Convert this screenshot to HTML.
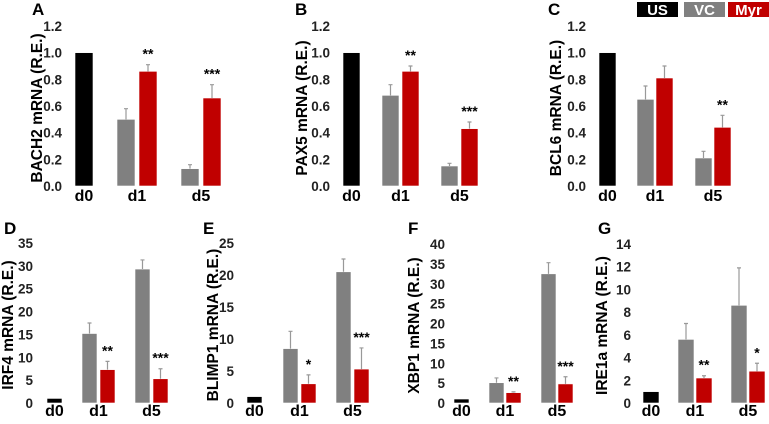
<!DOCTYPE html>
<html><head><meta charset="utf-8"><style>
body{margin:0;background:#fff}
svg text{font-family:"Liberation Sans",Arial,sans-serif;font-weight:bold}
</style></head><body>
<svg id="c" width="769" height="419" viewBox="0 0 769 419" xmlns="http://www.w3.org/2000/svg"></svg>
<script>
const categories=["d0","d1","d5"];
const panelLetters=["A","B","C","D","E","F","G"];
const genes=["BACH2","PAX5","BCL6","IRF4","BLIMP1","XBP1","IRE1a"];
const yMaxes=[1.2,1.2,1.2,35,25,40,14];
const tickSteps=[0.2,0.2,0.2,5,5,5,2];
const usValues=[1,1,1,1,1,1,1];
const vcValues=[[0.50,0.13],[0.68,0.15],[0.65,0.21],[15.2,29.3],[8.5,20.5],[5.1,32.5],[5.6,8.6]];
const vcErrors=[[0.08,0.03],[0.08,0.02],[0.10,0.05],[2.3,2.0],[2.7,2.0],[1.2,2.8],[1.4,3.3]];
const myrValues=[[0.86,0.66],[0.86,0.43],[0.81,0.44],[7.3,5.3],[3.0,5.3],[2.6,4.8],[2.2,2.8]];
const myrErrors=[[0.05,0.10],[0.04,0.05],[0.09,0.09],[1.8,2.2],[1.4,3.3],[0.2,1.8],[0.2,0.7]];
const stars=[["**","***"],["**","***"],["","**"],["**","***"],["*","***"],["**","***"],["**","*"]];
const legendLabels=["US","VC","Myr"];

// layout (not data)
const L=[
 {top:26,bot:186,tickX:62,titleX:36,letX:32,letY:15,x0:75,x1:117,x5:181,w:18,g:4,catY:201},
 {top:26,bot:186,tickX:330,titleX:301,letX:295,letY:15,x0:343,x1:382,x5:441,w:17,g:3,catY:201},
 {top:26,bot:186,tickX:586,titleX:555,letX:548,letY:15,x0:599,x1:637,x5:695,w:17,g:2,catY:201},
 {top:243,bot:403,tickX:33,titleX:7,letX:4,letY:234,x0:47,x1:82,x5:135,w:15,g:3,catY:416},
 {top:243,bot:403,tickX:234,titleX:212,letX:203,letY:234,x0:247,x1:283,x5:336,w:15,g:3,catY:416},
 {top:244,bot:403,tickX:445,titleX:413,letX:408,letY:234,x0:454,x1:489,x5:541,w:15,g:2,catY:416},
 {top:244,bot:403,tickX:631,titleX:601,letX:598,letY:234,x0:643,x1:678,x5:731,w:16,g:2,catY:416}
];
const svg=document.getElementById('c');
const NS="http://www.w3.org/2000/svg";
function mk(tag,attrs,parent){const e=document.createElementNS(NS,tag);for(const k in attrs)e.setAttribute(k,attrs[k]);(parent||svg).appendChild(e);return e;}
const COL={us:"#000",vc:"#808080",myr:"#c00000"};
genes.forEach((gene,p)=>{
  const l=L[p];
  const g=mk('g',{});
  
  
  const y=v=>l.bot-(v/yMaxes[p])*(l.bot-l.top);
  let t=mk('text',{x:l.letX,y:l.letY,'font-size':17},g);t.textContent=panelLetters[p];
  
  const n=Math.round(yMaxes[p]/tickSteps[p]);
  for(let i=0;i<=n;i++){
    const v=i*tickSteps[p];
    const tx=mk('text',{x:l.tickX,y:y(v)+5,'font-size':13.5,'text-anchor':'end',fill:'#222'},g);
    tx.textContent=p<3?v.toFixed(1):String(Math.round(v));
    
  }
  const cy=(l.top+l.bot)/2+2;
  const tt=mk('text',{x:l.titleX,y:cy,'font-size':15.5,'text-anchor':'middle',transform:`rotate(-90 ${l.titleX} ${cy})`,dy:6},g);
  tt.textContent=gene+" mRNA (R.E.)";
  
  function bar(x,v,e,col,name,st){
    const r=mk('rect',{x:x,y:y(v),width:l.w,height:l.bot-y(v),fill:col,stroke:'#fff','stroke-width':0.6},g);
    
    let topY=y(v);
    if(e>0){
      const cx=x+l.w/2;topY=y(v+e);
      const eb=mk('path',{d:`M${cx} ${y(v)}V${topY}M${cx-2} ${topY}H${cx+2}`,stroke:'#999','stroke-width':1.2,fill:'none'},g);
      
    }
    if(st){
      const s=mk('text',{x:x+l.w/2,y:topY-6,'font-size':14,'text-anchor':'middle'},g);
      s.textContent=st;
    }
  }
  bar(l.x0,usValues[p],0,COL.us,'bar-us-d0','');
  [l.x1,l.x5].forEach((gx,k)=>{
    bar(gx,vcValues[p][k],vcErrors[p][k],COL.vc,'bar-vc-'+categories[k+1],'');
    bar(gx+l.w+l.g,myrValues[p][k],myrErrors[p][k],COL.myr,'bar-myr-'+categories[k+1],stars[p][k]);
  });
  const cx=[l.x0+l.w/2,l.x1+l.w+l.g/2,l.x5+l.w+l.g/2];
  categories.forEach((c,i)=>{
    const ct=mk('text',{x:cx[i],y:l.catY,'font-size':16,'text-anchor':'middle'},g);
    ct.textContent=c;
  });
});
// legend
const lg=mk('g',{});

const lx=[637,684,728],lw=[41,41,41],lc=[COL.us,COL.vc,COL.myr];
legendLabels.forEach((s,i)=>{
  const r=mk('rect',{x:lx[i],y:2,width:lw[i],height:15,fill:lc[i]},lg);
  
  const t=mk('text',{x:lx[i]+lw[i]/2,y:15,'font-size':15,'text-anchor':'middle',fill:'#fff'},lg);
  t.textContent=s;
});
</script>
</body></html>
